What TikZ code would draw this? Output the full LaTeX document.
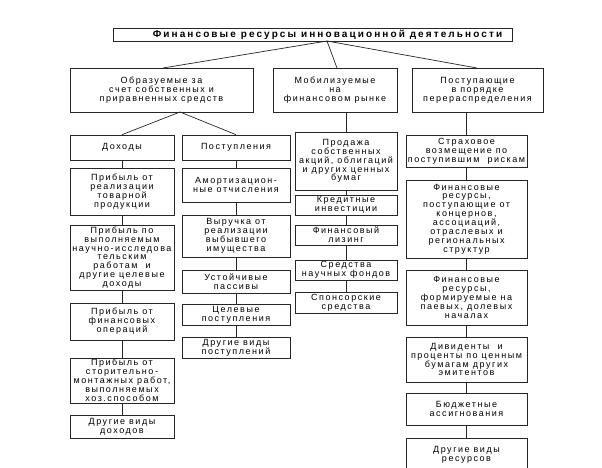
\documentclass[tikz,border=0pt]{standalone}
\usepackage{fontspec}
\newfontfamily\bodyf{Liberation Sans}[LetterSpace=17]
\newfontfamily\titlef{Liberation Sans}[LetterSpace=21]
\begin{document}
\begin{tikzpicture}[x=1pt,y=-1pt,
  box/.style={draw=black!85, line width=0.7pt, align=center, inner sep=0pt,
    font=\bodyf\fontsize{9}{8.9}\selectfont},
  ttl/.style={draw=black!85, line width=0.7pt, align=center, inner sep=0pt,
    font=\titlef\bfseries\fontsize{10}{11}\selectfont},
  link/.style={draw=black!85, line width=0.7pt}]
\useasboundingbox (0,0) rectangle (602,467);
\fill[white] (0,0) rectangle (602,467);
\clip (0,0) rectangle (602,467);
% title
\node[ttl, minimum width=399pt, minimum height=13pt] (t) at (312.5,34.5) {\hspace*{30pt}Финансовые ресурсы инновационной деятельности};
% level 2
\node[box, minimum width=183pt, minimum height=44pt] (b1) at (161.5,90) {Образуемые за\\счет собственных и\\приравненных средств};
\node[box, minimum width=124pt, minimum height=44pt] (b2) at (335,90) {Мобилизуемые\\на\\финансовом рынке};
\node[box, minimum width=131pt, minimum height=44pt] (b3) at (477.5,90) {Поступающие\\в порядке\\перераспределения};
% column 1
\node[box, minimum width=104pt, minimum height=25pt] (d0) at (122,147.5) {Доходы};
\node[box, minimum width=104pt, minimum height=47pt] (d1) at (122,191.5) {Прибыль от\\реализации\\товарной\\продукции};
\node[box, minimum width=104pt, minimum height=65pt] (d2) at (122,257.5) {Прибыль по\\выполняемым\\научно-исследова\\тельским\\работам~ и\\другие целевые\\доходы};
\node[box, minimum width=104pt, minimum height=37pt] (d3) at (122,321.5) {Прибыль от\\финансовых\\операций};
\node[box, minimum width=104pt, minimum height=45pt] (d4) at (122,380.5) {Прибыль от\\сторительно-\\монтажных работ,\\выполняемых\\хоз.способом};
\node[box, minimum width=104pt, minimum height=23pt] (d5) at (122,426.5) {Другие виды\\доходов};
% column 2
\node[box, minimum width=108pt, minimum height=25pt] (p0) at (236,147.5) {Поступления};
\node[box, minimum width=108pt, minimum height=34pt] (p1) at (236,185) {Амортизацион-\\ные отчисления};
\node[box, minimum width=108pt, minimum height=42pt] (p2) at (236,236) {Выручка от\\реализации\\выбывшего\\имущества};
\node[box, minimum width=108pt, minimum height=23pt] (p3) at (236,281.5) {Устойчивые\\пассивы};
\node[box, minimum width=108pt, minimum height=21pt] (p4) at (236,315) {Целевые\\поступления};
\node[box, minimum width=108pt, minimum height=21pt] (p5) at (236,347.5) {Другие виды\\поступлений};
% column 3
\node[box, minimum width=102pt, minimum height=58pt] (c0) at (346,161) {Продажа\\собственных\\акций, облигаций\\и других ценных\\бумаг};
\node[box, minimum width=102pt, minimum height=20pt] (c1) at (346,205) {Кредитные\\инвестиции};
\node[box, minimum width=102pt, minimum height=20pt] (c2) at (346,235) {Финансовый\\лизинг};
\node[box, minimum width=102pt, minimum height=20pt] (c3) at (346,270) {Средства\\научных фондов};
\node[box, minimum width=102pt, minimum height=21pt] (c4) at (346,302.5) {Спонсорские\\средства};
% column 4
\node[box, minimum width=121pt, minimum height=32pt] (r0) at (466.5,151) {Страховое\\возмещение по\\поступившим~ рискам};
\node[box, minimum width=121pt, minimum height=78pt] (r1) at (466.5,219) {Финансовые\\ресурсы,\\поступающие от\\концернов,\\ассоциаций,\\отраслевых и\\региональных\\структур};
\node[box, minimum width=121pt, minimum height=55pt] (r2) at (466.5,297.5) {Финансовые\\ресурсы,\\формируемые на\\паевых, долевых\\началах};
\node[box, minimum width=121pt, minimum height=45pt] (r3) at (466.5,359.5) {Дивиденты~ и\\проценты по ценным\\бумагам других\\эмитентов};
\node[box, minimum width=121pt, minimum height=32pt] (r4) at (466.5,409) {Бюджетные\\ассигнования};
\node[box, minimum width=121pt, minimum height=34pt] (r5) at (466.5,455) {Другие виды\\ресурсов};
% junction points
\coordinate (tj) at (327,41);
\coordinate (b1in) at (163,68);
\coordinate (b2in) at (337,68);
\coordinate (b3in) at (477,68);
\coordinate (b1out) at (180,112);
% connectors
\draw[link] (tj) -- (b1in);
\draw[link] (tj) -- (b2in);
\draw[link] (tj) -- (b3in);
\draw[link] (b1out) -- (d0.north);
\draw[link] (b1out) -- (p0.north);
\draw[link] (b2.south -| c0.north) -- (c0.north);
\draw[link] (b3.south -| r0.north) -- (r0.north);
\draw[link] (d0) -- (d1) -- (d2) -- (d3) -- (d4) -- (d5);
\draw[link] (p0) -- (p1) -- (p2) -- (p3) -- (p4) -- (p5);
\draw[link] (c0) -- (c1) -- (c2) -- (c3) -- (c4);
\draw[link] (r0) -- (r1) -- (r2) -- (r3) -- (r4) -- (r5);
\end{tikzpicture}
\end{document}
